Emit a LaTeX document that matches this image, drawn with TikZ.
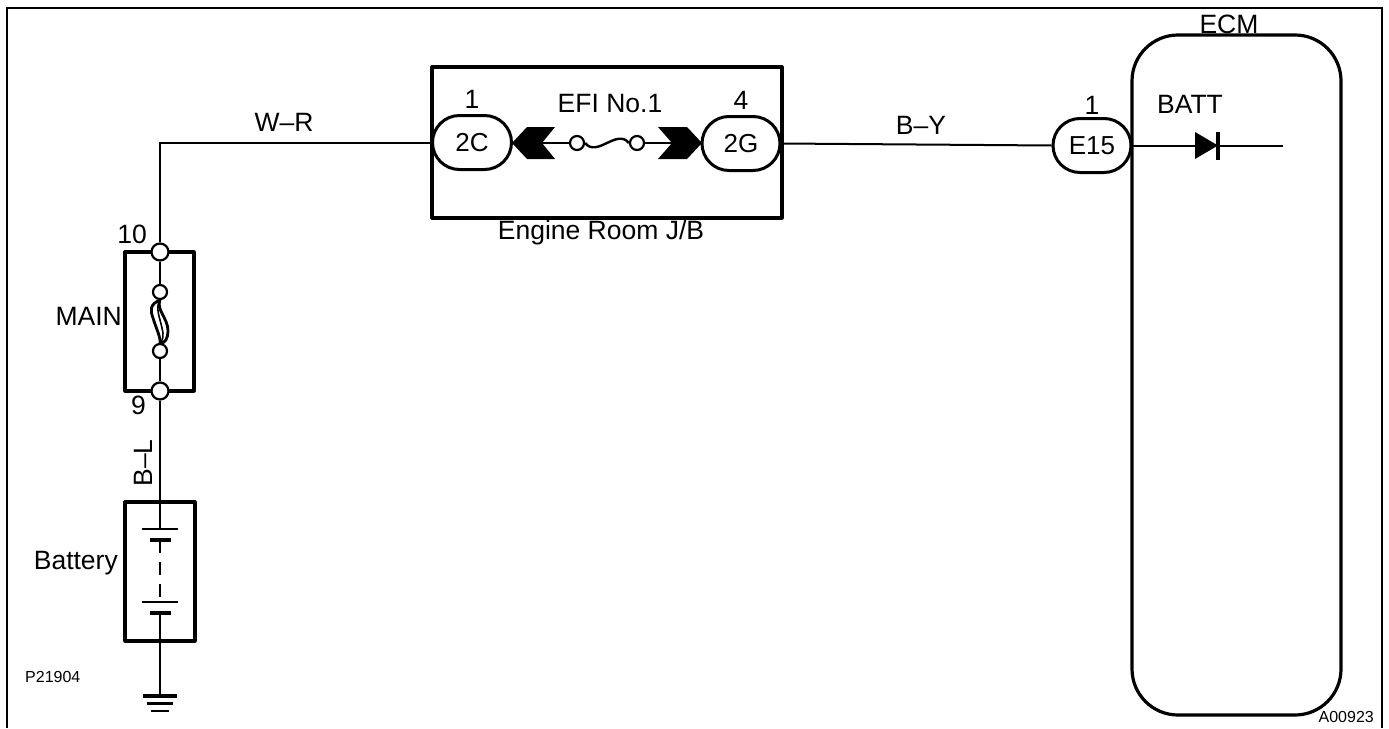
\documentclass[tikz,border=0pt]{standalone}
\usepackage{fontspec}
\setmainfont{Liberation Sans}
\usetikzlibrary{shapes.misc}
\tikzset{
  x=1pt,y=-1pt,
  wire/.style={line width=2pt},
  box/.style={draw,line width=3.2pt,line join=round},
  pill/.style={draw,fill=white,line width=3pt,rounded rectangle,minimum width=#1,minimum height=54pt,inner sep=0pt,font=\fontsize{26}{28}\selectfont},
  term/.style={draw,fill=white,line width=2.2pt,circle,minimum size=#1,inner sep=0pt},
  lab/.style={inner sep=0pt,font=\fontsize{26.5}{28}\selectfont},
  small/.style={inner sep=0pt,font=\fontsize{16}{18}\selectfont}
}
\begin{document}
\begin{tikzpicture}
\useasboundingbox (0,0) rectangle (1389,728);
% frame
\draw[line width=2.4pt] (7,728) -- (7,8) -- (1382,8) -- (1382,728);
% ECM
\node[draw,line width=3.2pt,rounded corners=46pt,minimum width=209pt,minimum height=680pt,inner sep=0pt] (ecm) at (1236.5,375) {};
\node[lab,anchor=south] (ecmlab) at (1229,34) {ECM};
% boxes
\node[box,minimum width=350pt,minimum height=151pt,inner sep=0pt] (jb) at (607,142.5) {};
\node[box,minimum width=69pt,minimum height=139pt,inner sep=0pt] (main) at (159.5,321.5) {};
\node[box,minimum width=70pt,minimum height=139pt,inner sep=0pt] (batt) at (160,571.5) {};
% connectors
\node[pill=79pt] (c2c) at (472,142.5) {2C};
\node[pill=78pt] (c2g) at (741,143.5) {2G};
\node[pill=78pt] (e15) at (1092,145.5) {E15};
\node[lab] at (472,99) {1};
\node[lab] at (741,100) {4};
\node[lab] at (1092,105) {1};
\node[lab] at (610,104) {EFI No.1};
\node[lab] at (601,233) {Engine Room J/B};
\node[lab] at (284,122) {W--R};
\node[lab] at (921,125) {B--Y};
\node[lab] at (1190,104) {BATT};
% MAIN terminals
\coordinate (wc) at (160,142.5);
\node[term=17pt] (t10) at (160,252) {};
\node[term=17pt] (t9) at (160,391) {};
\node[term=14pt] (f1) at (160,292) {};
\node[term=14pt] (f2) at (160,351) {};
\node[lab,anchor=east] at (147,234) {10};
\node[lab,anchor=east] at (146,405) {9};
\node[lab,anchor=east] at (122,316) {MAIN};
\node[lab,anchor=east] at (118,563) {Battery};
\node[lab,rotate=90] at (143,463) {B--L};
\node[small,anchor=west] at (25,677) {P21904};
\node[small,anchor=east] at (1374,717) {A00923};
% wires
\draw[wire] (c2c.west) -- (wc) -- (t10.north);
\draw[wire] (t10) -- (f1);
\draw[wire] (f2) -- (t9);
\draw[wire] (t9.south) -- (batt.north);
\draw[wire] (c2g.east) -- (e15.west);
\coordinate (bend) at (1283,145.5);
\draw[wire] (e15.east) -- (bend);
% fuse MAIN
\draw[line width=2.8pt] (f1.south) .. controls (150,304) and (150,310) .. (153,318) .. controls (156,328) and (161,338) .. (f2.north);
\draw[line width=2.8pt] (f1.south) .. controls (156,310) and (168,318) .. (168,331) .. controls (168,338) and (165,344) .. (f2.north);
\draw[line width=1.6pt] (f1.south) .. controls (155,308) and (160,318) .. (162,328) .. controls (164,336) and (163,340) .. (f2.north);
% J/B fuse
\node[term=14pt] (g1) at (577,143) {};
\node[term=14pt] (g2) at (637,143) {};
\draw[line width=2.4pt] (g1.east) .. controls (597,158) and (617,128) .. (g2.west);
\coordinate (ln) at (542,143);
\coordinate (rn) at (672,143);
\draw[wire] (ln) -- (g1.west);
\draw[wire] (g2.east) -- (rn);
\fill (512,143) -- (527,127) -- (555,127) -- (542,143) -- (555,159) -- (527,159) -- cycle;
\fill (702,143) -- (687,127) -- (658,127) -- (672,143) -- (658,159) -- (687,159) -- cycle;
% diode
\fill (1195,132) -- (1218,145.5) -- (1195,159) -- cycle;
\draw[line width=3.2pt] (1218,132) -- (1218,160);
% battery
\coordinate (p1) at (160,529);
\draw[wire] (batt.north) -- (p1);
\draw[line width=2pt] (142,529) -- (178,529);
\draw[line width=3.2pt] (150,540) -- (171,540);
\draw[line width=2pt,dash pattern=on 13pt off 9pt] (160,540) -- (160,602);
\draw[line width=2pt] (142,602) -- (178,602);
\draw[line width=3.2pt] (150,613) -- (171,613);
\coordinate (g0) at (160,696);
\draw[wire] (160,613) -- (g0);
\draw[line width=3.2pt] (143,696) -- (177,696);
\draw[line width=3.2pt] (147,703.5) -- (173,703.5);
\draw[line width=2.4pt] (151,711) -- (169,711);
\end{tikzpicture}
\end{document}
